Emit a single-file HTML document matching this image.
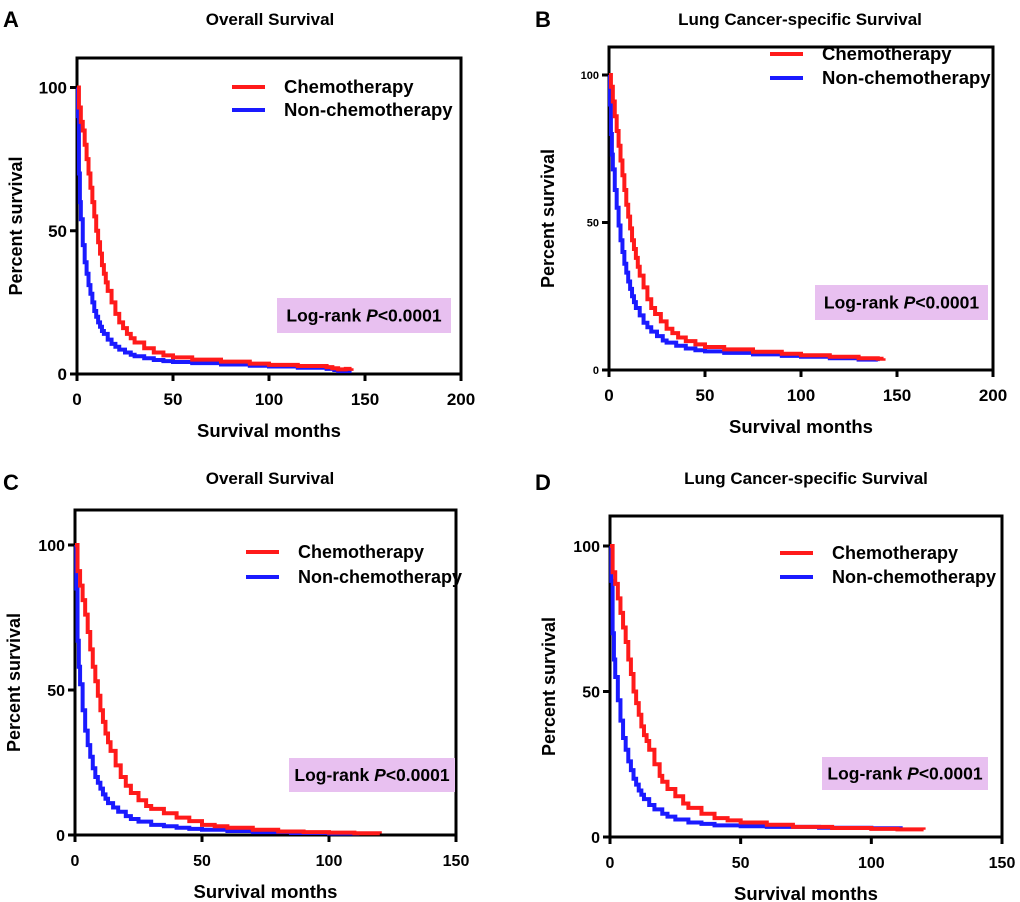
<!DOCTYPE html>
<html><head><meta charset="utf-8">
<style>
body{margin:0;background:#fff;}
svg{display:block;font-family:"Liberation Sans",Arial,sans-serif;font-weight:bold;}
</style></head>
<body>
<svg id="fig" width="1020" height="902" viewBox="0 0 1020 902"></svg>
<script>
// Panel A data
const aTimesChemo=[0,1,2,3,4,5,6,7,8,9,10,11,12,13,14,15,16,18,20,22,24,26,28,30,35,40,45,50,60,75,90,100,115,130,133,136,140,143];
const aSurvChemo=[100,93,88,85,80,75,70,65,60,55,50,46,42,38,35,32,29,25,21,18,16,14,12.5,11,9,7.5,6.5,5.8,5,4.3,3.6,3.2,2.8,2.4,2,1.6,1.8,2];
const aTimesNon=[0,0.5,1,1.5,2,3,4,5,6,7,8,9,10,11,12,13,14,16,18,20,22,25,28,30,35,40,45,50,60,75,90,100,115,130,134,136,143];
const aSurvNon=[100,90,70,60,54,45,39,35,31,28,25,22,20,18,16.5,15,14,12,10.5,9.5,8.5,7.5,6.7,6.2,5.5,4.9,4.5,4.2,3.8,3.3,2.9,2.6,2.2,1.8,1.4,1,1];
// Panel B data
const bTimesChemo=[0,1,2,3,4,5,6,7,8,9,10,11,12,13,14,15,16,18,20,22,24,27,30,33,36,40,45,50,60,75,90,100,115,130,140,143];
const bSurvChemo=[100,96,91,86,81,76,71,66,61,56,52,48,44,41,38,35,32,28,24,21,19,16.5,14,12.5,11,9.8,8.7,7.8,7,6.2,5.5,5,4.5,4,3.8,4];
const bTimesNon=[0,0.5,1,1.5,2,3,4,5,6,7,8,9,10,11,12,13,14,16,18,20,22,25,28,30,35,40,45,50,60,75,90,100,115,130,140];
const bSurvNon=[100,90,80,73,68,61,55,49,44,40,36,33,30,27.5,25,23,21,18.5,16,14.5,13,11.5,10,9.3,8.2,7.3,6.7,6.3,5.8,5.3,4.8,4.5,4,3.5,3];
// Panel C data
const cTimesChemo=[0,1,2,3,4,5,6,7,8,9,10,11,12,13,14,16,18,20,22,25,28,30,35,40,45,50,55,60,70,80,90,100,110,120];
const cSurvChemo=[100,91,86,81,76,70,64,58,53,48,43,39,35,32,29,24,20,17,14.5,12,10,9,7.5,6,4.8,3.5,3,2.5,1.8,1.2,1,0.8,0.6,0.5];
const cTimesNon=[0,0.5,1,1.5,2,3,4,5,6,7,8,9,10,11,12,13,15,17,20,22,25,30,35,40,45,50,60,70,85,100,112];
const cSurvNon=[100,85,67,58,52,43,36,31,27,23,20,18,16,14,12.5,11,9.5,8,6.5,5.5,4.6,3.5,3,2.5,2.1,1.8,1.4,1,0.7,0.5,0.5];
// Panel D data
const dTimesChemo=[0,1,2,3,4,5,6,7,8,9,10,11,12,13,14,15,17,19,20,22,25,28,30,35,40,45,50,60,70,85,100,110,120];
const dSurvChemo=[100,91,87,82,77,72,67,61,56,50,46,42,38,35,33,30,25,21,19,16.5,14,11.5,10,8,6.5,5.7,5,4.2,3.5,3.1,2.8,2.6,2.5];
const dTimesNon=[0,0.5,1,1.5,2,3,4,5,6,7,8,9,10,11,12,13,15,17,20,22,25,30,35,40,50,60,80,100,112];
const dSurvNon=[100,88,70,61,55,47,40,34,30,26,23,20,18,16,14.5,13,11,9.5,8,7,6,5,4.5,4,3.7,3.5,3.2,3,3];
const xTicksAB=[0,50,100,150,200];
const xTicksCD=[0,50,100,150];
const yTicks=[0,50,100];

const NS="http://www.w3.org/2000/svg";
const svg=document.getElementById('fig');
function mk(tag,attrs,parent){const e=document.createElementNS(NS,tag);for(const k in attrs)e.setAttribute(k,attrs[k]);(parent||svg).appendChild(e);return e;}

const panels=[
 {id:'a',letter:'A',title:'Overall Survival',L:77,R:461,T:58,B:374,y100:87.5,xmax:200,xt:xTicksAB,tfs:17,tc:270,lfs:18.5,
  legY:[87,110],legX:232,box:[277,298,174,35],series:[[aTimesChemo,aSurvChemo],[aTimesNon,aSurvNon]]},
 {id:'b',letter:'B',title:'Lung Cancer-specific Survival',L:609,R:993,T:47,B:370,y100:75,xmax:200,xt:xTicksAB,tfs:17,ytfs:11,tc:800,lfs:18.5,
  legY:[54,78],legX:770,box:[815,285,173,35],series:[[bTimesChemo,bSurvChemo],[bTimesNon,bSurvNon]]},
 {id:'c',letter:'C',title:'Overall Survival',L:75,R:456,T:510,B:835,y100:545,xmax:150,xt:xTicksCD,tfs:16,tc:270,lfs:18,
  legY:[552,577],legX:246,box:[289,758,166,34],series:[[cTimesChemo,cSurvChemo],[cTimesNon,cSurvNon]]},
 {id:'d',letter:'D',title:'Lung Cancer-specific Survival',L:610,R:1002,T:516,B:837,y100:546,xmax:150,xt:xTicksCD,tfs:16,tc:806,lfs:18,
  legY:[553,577],legX:780,box:[822,757,166,33],series:[[dTimesChemo,dSurvChemo],[dTimesNon,dSurvNon]]}
];
const colors=['#ff1a1a','#1a1aff'];
const names=['Chemotherapy','Non-chemotherapy'];

panels.forEach(p=>{
 const g=mk('g',{});
 
 
 const xs=v=>p.L+(v/p.xmax)*(p.R-p.L);
 const ys=v=>p.B-(v/100)*(p.B-p.y100);
 const lt=mk('text',{'font-size':22},g);
 lt.setAttribute('x',p.id==='a'||p.id==='c'?3:535);
 lt.setAttribute('y',p.id==='a'||p.id==='b'?27:490);
 lt.textContent=p.letter;
 
 
 const tt=mk('text',{x:p.tc,y:p.T<100?25:484,'font-size':17,'text-anchor':'middle'},g);
 tt.textContent=p.title;
 
 
 const fr=mk('rect',{x:p.L,y:p.T,width:p.R-p.L,height:p.B-p.T,fill:'none',stroke:'#000','stroke-width':3},g);
 
 
 p.xt.forEach(v=>{
  mk('line',{x1:xs(v),x2:xs(v),y1:p.B,y2:p.B+7,stroke:'#000','stroke-width':3},g);
  const t=mk('text',{x:xs(v),y:p.B+31,'font-size':p.tfs,'text-anchor':'middle'},g);
  t.textContent=v;
  
  
 });
 yTicks.forEach(v=>{
  mk('line',{x1:p.L-7,x2:p.L,y1:ys(v),y2:ys(v),stroke:'#000','stroke-width':3},g);
  const t=mk('text',{x:p.L-10,y:ys(v)+(p.ytfs?4:6),'font-size':p.ytfs||p.tfs,'text-anchor':'end'},g);
  t.textContent=v;
  
  
 });
 const xt=mk('text',{x:(p.L+p.R)/2,y:p.B+63,'font-size':18.5,'text-anchor':'middle'},g);
 xt.textContent='Survival months';
 
 
 const yx=p.L-55, yy=(p.T+p.B)/2+10;
 const yt=mk('text',{x:yx,y:yy,'font-size':18,'text-anchor':'middle',transform:`rotate(-90 ${yx} ${yy})`},g);
 yt.textContent='Percent survival';
 
 
 const bx=mk('rect',{x:p.box[0],y:p.box[1],width:p.box[2],height:p.box[3],fill:'#e8c0f0'},g);
 
 
 const bt=mk('text',{x:p.box[0]+p.box[2]/2,y:p.box[1]+p.box[3]/2+6,'font-size':17.5,'text-anchor':'middle'},g);
 bt.innerHTML='Log-rank <tspan font-style="italic">P</tspan>&lt;0.0001';
 
 
 [1,0].forEach(i=>{
  const [T,S]=p.series[i];
  let d='M'+xs(T[0])+','+ys(S[0]);
  for(let k=1;k<T.length;k++){d+=' H'+xs(T[k])+' V'+ys(S[k]);}
  const path=mk('path',{d:d,fill:'none',stroke:colors[i],'stroke-width':4},g);
  
  
 });
 [0,1].forEach(i=>{
  const ly=p.legY[i];
  const ll=mk('line',{x1:p.legX,x2:p.legX+33,y1:ly,y2:ly,stroke:colors[i],'stroke-width':4},g);
  
  
  const tx=mk('text',{x:p.legX+52,y:ly+6,'font-size':p.lfs},g);
  tx.textContent=names[i];
  
  
 });
});
</script>
</body></html>
